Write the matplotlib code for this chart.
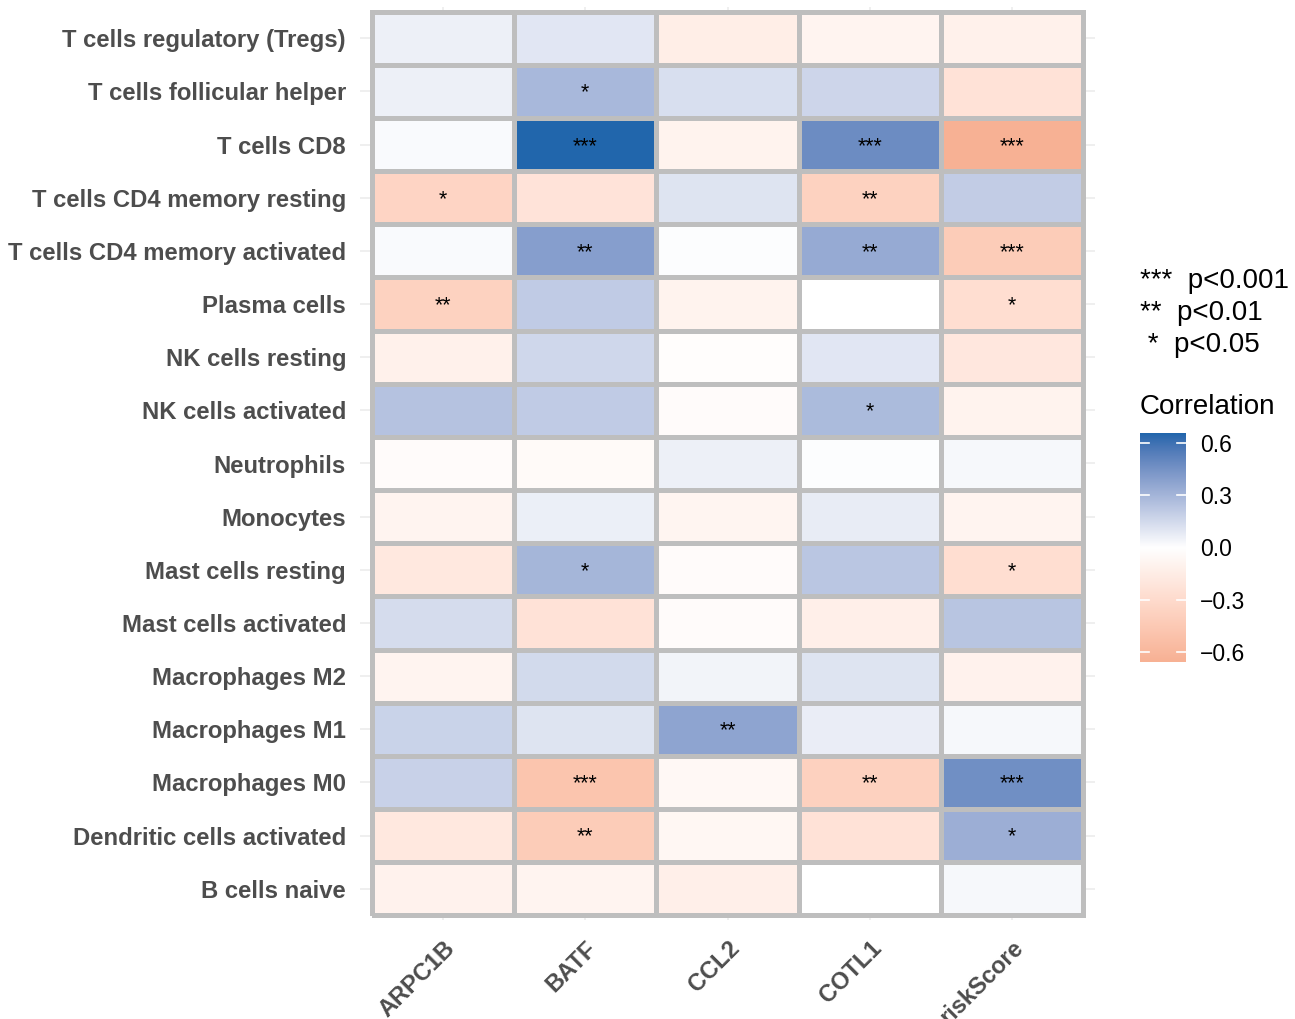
import numpy as np
import matplotlib
matplotlib.use("Agg")
import matplotlib.pyplot as plt
from matplotlib.colors import ListedColormap, Normalize, to_rgb

cells = [
    "T cells regulatory (Tregs)",
    "T cells follicular helper",
    "T cells CD8",
    "T cells CD4 memory resting",
    "T cells CD4 memory activated",
    "Plasma cells",
    "NK cells resting",
    "NK cells activated",
    "Neutrophils",
    "Monocytes",
    "Mast cells resting",
    "Mast cells activated",
    "Macrophages M2",
    "Macrophages M1",
    "Macrophages M0",
    "Dendritic cells activated",
    "B cells naive",
]
genes = ["ARPC1B", "BATF", "CCL2", "COTL1", "riskScore"]

# correlation per immune cell (rows) and gene (columns)
corr_ARPC1B = [0.06, 0.06, 0.02, -0.36, 0.02, -0.38, -0.12, 0.25, -0.03, -0.09,
               -0.19, 0.14, -0.09, 0.18, 0.185, -0.19, -0.11]
corr_BATF = [0.10, 0.29, 0.66, -0.23, 0.40, 0.21, 0.16, 0.21, -0.04, 0.065,
             0.30, -0.24, 0.15, 0.11, -0.49, -0.43, -0.09]
corr_CCL2 = [-0.14, 0.13, -0.10, 0.11, 0.01, -0.10, -0.02, -0.03, 0.06, -0.08,
             -0.03, -0.03, 0.045, 0.375, -0.06, -0.07, -0.13]
corr_COTL1 = [-0.09, 0.17, 0.48, -0.38, 0.35, 0.00, 0.10, 0.28, 0.01, 0.075,
              0.23, -0.13, 0.11, 0.07, -0.39, -0.24, 0.00]
corr_riskScore = [-0.12, -0.24, -0.66, 0.205, -0.43, -0.28, -0.20, -0.10, 0.03, -0.09,
                  -0.28, 0.235, -0.11, 0.03, 0.47, 0.33, 0.03]

# significance marks
sig_ARPC1B = ["", "", "", "*", "", "**", "", "", "", "", "", "", "", "", "", "", ""]
sig_BATF = ["", "*", "***", "", "**", "", "", "", "", "", "*", "", "", "", "***", "**", ""]
sig_CCL2 = ["", "", "", "", "", "", "", "", "", "", "", "", "", "**", "", "", ""]
sig_COTL1 = ["", "", "***", "**", "**", "", "", "*", "", "", "", "", "", "", "**", "", ""]
sig_riskScore = ["", "", "***", "", "***", "*", "", "", "", "", "*", "", "", "", "***", "*", ""]

legend_lines = ["***  p<0.001", "**  p<0.01", " *  p<0.05"]
cbar_ticks = [-0.6, -0.3, 0.0, 0.3, 0.6]
cbar_labels = ["\u22120.6", "\u22120.3", "0.0", "0.3", "0.6"]

corr = np.column_stack([corr_ARPC1B, corr_BATF, corr_CCL2, corr_COTL1, corr_riskScore])
sig = np.column_stack([sig_ARPC1B, sig_BATF, sig_CCL2, sig_COTL1, sig_riskScore])

plt.rcParams["font.family"] = ["Liberation Sans", "DejaVu Sans"]


# diverging palette interpolated in CIELAB (low -> white -> high)
def _srgb_to_lab(rgb):
    rgb = np.asarray(rgb, float)
    lin = np.where(rgb <= 0.04045, rgb / 12.92, ((rgb + 0.055) / 1.055) ** 2.4)
    m = np.array([[0.4124, 0.3576, 0.1805],
                  [0.2126, 0.7152, 0.0722],
                  [0.0193, 0.1192, 0.9505]])
    xyz = lin @ m.T / np.array([0.95047, 1.0, 1.08883])
    f = np.where(xyz > 216 / 24389, np.cbrt(xyz), (24389 / 27 * xyz + 16) / 116)
    return np.stack([116 * f[..., 1] - 16,
                     500 * (f[..., 0] - f[..., 1]),
                     200 * (f[..., 1] - f[..., 2])], axis=-1)


def _lab_to_srgb(lab):
    L, a, b = lab[..., 0], lab[..., 1], lab[..., 2]
    fy = (L + 16) / 116
    fx = fy + a / 500
    fz = fy - b / 200
    def finv(t):
        return np.where(t ** 3 > 216 / 24389, t ** 3, (116 * t - 16) / (24389 / 27))
    xyz = np.stack([finv(fx), finv(fy), finv(fz)], axis=-1) * np.array([0.95047, 1.0, 1.08883])
    minv = np.array([[3.2406, -1.5372, -0.4986],
                     [-0.9689, 1.8758, 0.0415],
                     [0.0557, -0.2040, 1.0570]])
    lin = np.clip(xyz @ minv.T, 0, 1)
    rgb = np.where(lin <= 0.0031308, 12.92 * lin, 1.055 * lin ** (1 / 2.4) - 0.055)
    return np.clip(rgb, 0, 1)


def lab_diverging(low, mid, high, n=512):
    labs = _srgb_to_lab([to_rgb(low), to_rgb(mid), to_rgb(high)])
    t = np.linspace(0, 1, n)
    out = np.empty((n, 3))
    lower = t <= 0.5
    u = t[lower] / 0.5
    out[lower] = labs[0] + (labs[1] - labs[0]) * u[:, None]
    u = (t[~lower] - 0.5) / 0.5
    out[~lower] = labs[1] + (labs[2] - labs[1]) * u[:, None]
    return ListedColormap(_lab_to_srgb(out))


W, H = 1295, 1019
fig = plt.figure(figsize=(W / 100, H / 100), dpi=100)

cmap = lab_diverging("#F7B194", "#FFFFFF", "#2166AC")
lim = np.abs(corr).max()
norm = Normalize(-lim, lim)


def fig_rect(x0, y0, x1, y1):
    return [x0 / W, 1 - y1 / H, (x1 - x0) / W, (y1 - y0) / H]


ax = fig.add_axes(fig_rect(360, 7, 1095, 920))
n_rows, n_cols = corr.shape
# first row of the list sits at the top
ypos = np.arange(n_rows)[::-1]
ax.set_xlim(-0.585, n_cols - 0.5 + 0.085)
ax.set_ylim(-0.59, n_rows - 0.5 + 0.09)
ax.set_axisbelow(True)
ax.grid(True, color="#EBEBEB", linewidth=1.1, zorder=0)
for s in ax.spines.values():
    s.set_visible(False)

xe = np.arange(n_cols + 1) - 0.5
ye = np.arange(n_rows + 1) - 0.5
ax.pcolormesh(xe, ye, corr[::-1], cmap=cmap, norm=norm,
              edgecolors="#BEBEBE", linewidth=3.4, zorder=2)

for i in range(n_rows):
    for j in range(n_cols):
        if sig[i, j]:
            ax.text(j, ypos[i] - 0.03, sig[i, j], ha="center", va="center",
                    fontsize=15.5, color="black", zorder=3)

ax.set_xticks(range(n_cols))
ax.set_xticklabels(genes, rotation=45, ha="right", va="top",
                   rotation_mode="anchor", fontsize=17, fontweight="bold",
                   color="#4D4D4D")
ax.set_yticks(ypos)
ax.set_yticklabels(cells, fontsize=17.2, fontweight="bold", color="#4D4D4D",
                   va="center_baseline")
ax.tick_params(axis="both", length=0)
ax.tick_params(axis="y", pad=10)
ax.tick_params(axis="x", pad=12)

# significance key
for k, line in enumerate(legend_lines):
    fig.text(1140 / W, 1 - (281 + 32 * k) / H, line, ha="left", va="center",
             fontsize=20, color="black")

fig.text(1140 / W, 1 - 407 / H, "Correlation", ha="left", va="center",
         fontsize=20, color="black")

# colour bar spanning the observed range
cax = fig.add_axes(fig_rect(1140, 433, 1186, 662))
lo, hi = corr.min(), corr.max()
grad = np.linspace(lo, hi, 300).reshape(-1, 1)
cax.imshow(grad, cmap=cmap, norm=norm, aspect="auto", origin="lower",
           extent=[0, 1, lo, hi])
cax.set_xlim(0, 1)
cax.set_ylim(lo, hi)
cax.set_xticks([])
cax.yaxis.tick_right()
cax.set_yticks(cbar_ticks)
cax.set_yticklabels(cbar_labels)
cax.tick_params(axis="y", length=0, pad=10, labelsize=16.5, labelcolor="black")
for s in cax.spines.values():
    s.set_visible(False)
for t in cbar_ticks:
    cax.plot([0, 0.2], [t, t], color="white", linewidth=1.2)
    cax.plot([0.8, 1], [t, t], color="white", linewidth=1.2)

fig.savefig("out.png", dpi=100, facecolor="white")
